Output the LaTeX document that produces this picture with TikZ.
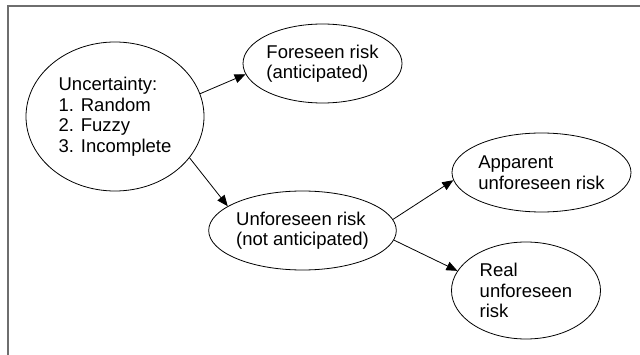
\documentclass[tikz,border=0pt]{standalone}
\usepackage{fontspec}
\setmainfont{Liberation Sans}
\usetikzlibrary{arrows.meta,shapes.geometric}
\begin{document}
\begin{tikzpicture}[x=1pt,y=-1pt,
  bub/.style={draw=black,line width=0.8pt,ellipse,inner sep=0pt,align=left,
    font=\fontsize{18.5}{20.5}\selectfont},
  conn/.style={line width=0.8pt,-{Triangle[length=11pt,width=9pt]}}]
\useasboundingbox (0,0) rectangle (640,355);
\draw[line width=2pt,color=black!57] (8,355) -- (8,6) -- (640,6);
\node[bub,minimum width=178pt,minimum height=149pt] (u) at (115,116.5)
  {Uncertainty:\\1. Random\\2. Fuzzy\\3. Incomplete};
\node[bub,minimum width=159pt,minimum height=79pt] (f) at (322.5,63.5)
  {Foreseen risk\\(anticipated)};
\node[bub,minimum width=179pt,minimum height=79pt] (n) at (302.5,230.5)
  {Unforeseen risk\\(not anticipated)};
\node[bub,minimum width=179pt,minimum height=79pt] (a) at (541.5,172.5)
  {Apparent\\unforeseen risk};
\node[bub,minimum width=149pt,minimum height=97pt] (r) at (526,290.5)
  {Real\\unforeseen\\risk};
\draw[conn] (u.15) -- (f.188);
\draw[conn] (u.-29) -- (n.162);
\draw[conn] (n.7) -- (a.185);
\draw[conn] (n.-6) -- (r.164);
\end{tikzpicture}
\end{document}
